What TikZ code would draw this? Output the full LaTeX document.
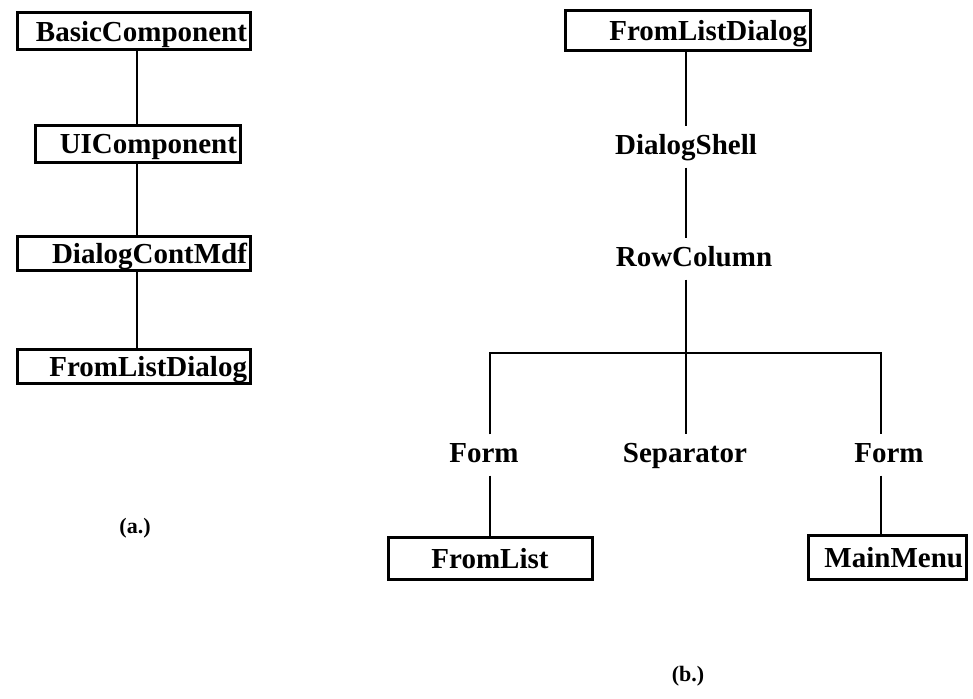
\documentclass[tikz,border=0pt]{standalone}
\usepackage{fontspec}
\setmainfont{Liberation Serif}
\begin{document}
\begin{tikzpicture}[x=1pt,y=-1pt,
  every node/.style={font=\fontsize{29}{30}\selectfont\bfseries,
    text height=20pt, text depth=6pt},
  cls/.style={draw, line width=3pt, inner xsep=3pt, inner ysep=0pt, align=right,
    text depth=0pt},
  lbl/.style={inner sep=0pt, minimum height=41pt},
  figcaption/.style={font=\fontsize{22}{24}\selectfont\bfseries,
    text height=15pt, text depth=4pt},
  link/.style={line width=1.6pt}]
\useasboundingbox (0,0) rectangle (973,698);

% (a.) class inheritance chain
\node[cls, text width=227pt, minimum height=37pt] (bc) at (133.5,31.5) {BasicComponent};
\node[cls, text width=199pt, minimum height=37pt] (ui) at (137.5,143.5) {UIComponent};
\node[cls, text width=227pt, minimum height=34pt] (dc) at (133.5,253.5) {DialogContMdf};
\node[cls, text width=227pt, minimum height=34pt] (fa) at (133.5,366.5) {FromListDialog};
\node[figcaption] (capa) at (135,528) {(a.)};

\coordinate (ax) at (137,0);
\draw[link] (bc.south -| ax) -- (ui.north -| ax);
\draw[link] (ui.south -| ax) -- (dc.north -| ax);
\draw[link] (dc.south -| ax) -- (fa.north -| ax);

% (b.) widget tree
\node[cls, text width=239pt, minimum height=40pt] (fb) at (687.5,31) {FromListDialog};
\node[lbl] (ds) at (686,147) {DialogShell};
\node[lbl] (rc) at (694,259) {RowColumn};
\node[lbl] (f1) at (484,455) {Form};
\node[lbl] (sp) at (685,455) {Separator};
\node[lbl] (f2) at (889,455) {Form};
\node[cls, align=center, text width=198pt, minimum height=42pt] (fl) at (490,558.5) {FromList};
\node[cls, text width=152pt, minimum height=44pt] (mm) at (887,557.5) {MainMenu};
\node[figcaption] (capb) at (688,676) {(b.)};

\coordinate (bx) at (686,0);
\coordinate (bar) at (0,353);
\coordinate (lx) at (490,0);
\coordinate (rx) at (881,0);
\draw[link] (fb.south -| bx) -- (ds.north -| bx);
\draw[link] (ds.south -| bx) -- (rc.north -| bx);
\draw[link] (rc.south -| bx) -- (sp.north -| bx);
\draw[link] (f1.north -| lx) -- (bar -| lx) -- (bar -| rx) -- (f2.north -| rx);
\draw[link] (f1.south -| lx) -- (fl.north -| lx);
\draw[link] (f2.south -| rx) -- (mm.north -| rx);
\end{tikzpicture}
\end{document}
